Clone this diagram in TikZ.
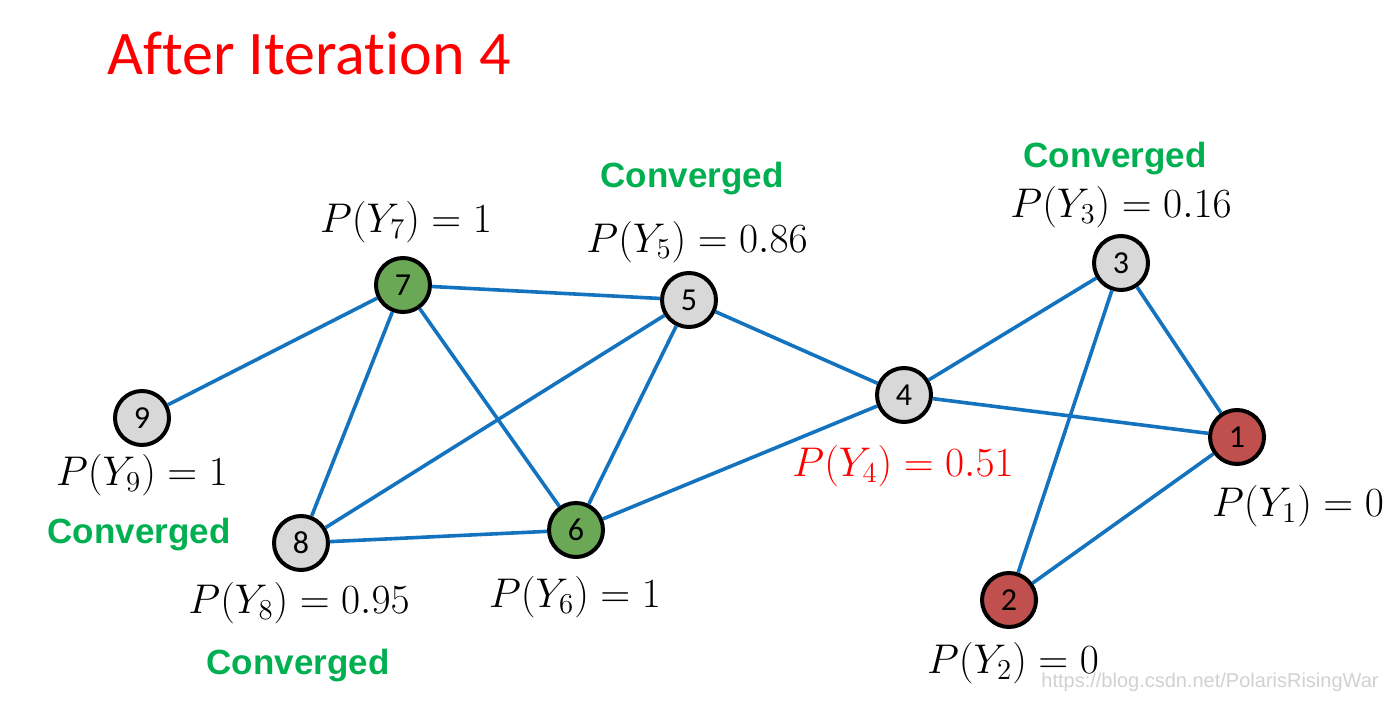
\documentclass[tikz,border=0pt]{standalone}
\usepackage{fontspec}
\setmainfont[Ligatures={NoCommon}]{Carlito}
\newfontfamily\arialfont{Liberation Sans}
\definecolor{edgeblue}{RGB}{20,115,190}
\definecolor{convgreen}{RGB}{0,176,80}
\definecolor{nodegreen}{RGB}{106,168,86}
\definecolor{nodered}{RGB}{192,80,77}
\definecolor{nodegrey}{RGB}{216,216,216}
\definecolor{titlered}{RGB}{255,0,0}
\begin{document}
\begin{tikzpicture}[x=0.5pt,y=-0.5pt,
  vert/.style={circle,draw=black,line width=2pt,minimum size=27pt,inner sep=0pt,font=\fontsize{16}{18}\selectfont},
  greyv/.style={vert,fill=nodegrey},
  greenv/.style={vert,fill=nodegreen},
  redv/.style={vert,fill=nodered},
  edge/.style={draw=edgeblue,line width=1.8pt},
  prob/.style={font=\fontsize{20}{22}\selectfont},
  conv/.style={font=\arialfont\bfseries\fontsize{17.5}{20}\selectfont,text=convgreen}]
\useasboundingbox (0,0) rectangle (1400,704);
\node[anchor=base west,text=titlered,font=\fontsize{31}{36}\selectfont,inner sep=0pt] (title) at (107,75) {After Iteration 4};
\node[redv] (n1) at (1237,437) {1};
\node[redv] (n2) at (1009,600) {2};
\node[greyv] (n3) at (1121,263) {3};
\node[greyv] (n4) at (904,395) {4};
\node[greyv] (n5) at (689,300) {5};
\node[greenv] (n6) at (576,530) {6};
\node[greenv] (n7) at (403,285) {7};
\node[greyv] (n8) at (301,543) {8};
\node[greyv] (n9) at (142,418) {9};
\draw[edge] (n9) -- (n7);
\draw[edge] (n7) -- (n5);
\draw[edge] (n7) -- (n8);
\draw[edge] (n7) -- (n6);
\draw[edge] (n5) -- (n8);
\draw[edge] (n5) -- (n6);
\draw[edge] (n5) -- (n4);
\draw[edge] (n8) -- (n6);
\draw[edge] (n6) -- (n4);
\draw[edge] (n4) -- (n3);
\draw[edge] (n4) -- (n1);
\draw[edge] (n3) -- (n1);
\draw[edge] (n3) -- (n2);
\draw[edge] (n1) -- (n2);
\node[conv] (c5) at (692,179) {Converged};
\node[prob] (p5) at (697,242) {$P(Y_5)=0.86$};
\node[prob] (p7) at (406,222) {$P(Y_7)=1$};
\node[conv] (c3) at (1115,159) {Converged};
\node[prob] (p3) at (1121,207) {$P(Y_3)=0.16$};
\node[prob] (p9) at (142,475) {$P(Y_9)=1$};
\node[conv] (c9) at (139,535) {Converged};
\node[prob] (p8) at (299,603) {$P(Y_8)=0.95$};
\node[conv] (c8) at (298,666) {Converged};
\node[prob] (p6) at (575,597) {$P(Y_6)=1$};
\node[prob,text=titlered] (p4) at (903,466) {$P(Y_4)=0.51$};
\node[prob] (p1) at (1298,506) {$P(Y_1)=0$};
\node[prob] (p2) at (1013,663) {$P(Y_2)=0$};
\node[font=\arialfont\fontsize{10}{12}\selectfont,text=black!18] (wm) at (1210,682) {https://blog.csdn.net/PolarisRisingWar};
\end{tikzpicture}
\end{document}
